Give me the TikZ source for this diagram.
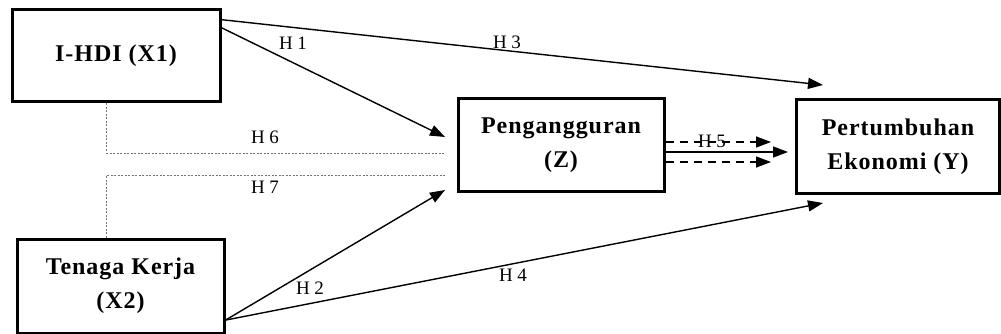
\documentclass[tikz,border=0pt]{standalone}
\usepackage{fontspec}
\setmainfont{Liberation Serif}
\newfontfamily\boxfont{Liberation Serif}[LetterSpace=4]
\usetikzlibrary{arrows.meta}
\tikzset{
  var/.style   = {rectangle, draw, line width=3pt, fill=white, inner sep=0, align=center, font=\boxfont\bfseries\fontsize{24}{34}\selectfont},
  hyp/.style   = {line width=1.4pt, -{Triangle[length=15pt,width=11pt]}},
  hypd/.style  = {hyp, dash pattern=on 8pt off 6pt},
  moder/.style = {line width=1pt, black!55, dash pattern=on 2pt off 1.5pt},
  et/.style    = {font=\fontsize{19}{22}\selectfont, inner sep=0}
}

\begin{document}
\begin{tikzpicture}[x=1pt, y=-1pt]
  \useasboundingbox (0,0) rectangle (1001,334);

  \node[var, minimum width=208pt, minimum height=92pt] (X1) at (116,56)    {I-HDI (X1)};
  \node[var, minimum width=207pt, minimum height=94pt] (X2) at (120.5,286) {Tenaga Kerja\\(X2)};
  \node[var, minimum width=206pt, minimum height=92pt] (Z)  at (561,145)   {Pengangguran\\(Z)};
  \node[var, minimum width=203pt, minimum height=93pt] (Y)  at (898,146.5) {Pertumbuhan\\Ekonomi (Y)};

  % arrow ends
  \coordinate (h1e) at (445,137);
  \coordinate (h2e) at (445,190);
  \coordinate (h3e) at (823,85);
  \coordinate (h4e) at (823,203);
  \coordinate (h5a) at (771,142);
  \coordinate (h5b) at (788,152);
  \coordinate (h5c) at (771,162);
  \coordinate (h6e) at (445,153);
  \coordinate (h7e) at (445,175);

  \draw[hyp] (X1.19) -- (h3e);
  \draw[hyp] (X1.15) -- (h1e);
  \draw[hyp] (X2.-18) -- (h2e);
  \draw[hyp] (X2.-18) -- (h4e);

  \draw[hypd] (Z.east |- h5a) -- (h5a);
  \draw[hyp]  (Z.east |- h5b) -- (h5b);
  \draw[hypd] (Z.east |- h5c) -- (h5c);

  \draw[moder] (X1.-101) |- (h6e);
  \draw[moder] (X2.106)  |- (h7e);

  \node[et] (l1) at (293,43)  {H 1};
  \node[et] (l2) at (310,288) {H 2};
  \node[et] (l3) at (507,42)  {H 3};
  \node[et] (l4) at (513,275) {H 4};
  \node[et] (l5) at (712,141) {H 5};
  \node[et] (l6) at (265,137) {H 6};
  \node[et] (l7) at (265,187) {H 7};
\end{tikzpicture}
\end{document}
